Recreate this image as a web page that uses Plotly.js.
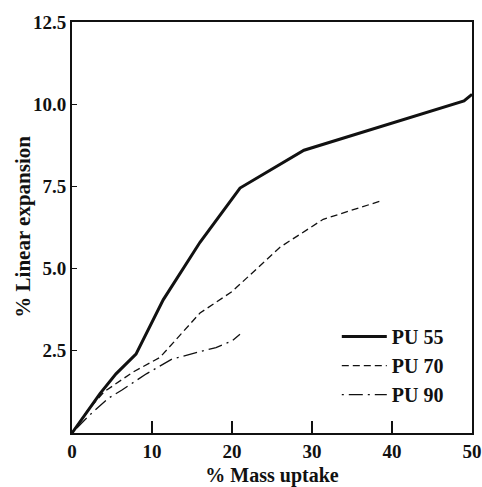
<!DOCTYPE html>
<html>
<head>
<meta charset="utf-8">
<script src="https://cdn.plot.ly/plotly-3.0.1.min.js"></script>
<style>html,body{margin:0;padding:0;background:#fff;}#chart{width:482px;height:487px;}</style>
</head>
<body>
<div id="chart"></div>
<script>
const pu55_x = [0, 3.5, 5.5, 8, 11.4, 13.8, 16, 21, 29, 49, 50];
const pu55_y = [0, 1.2, 1.8, 2.4, 4.05, 4.95, 5.8, 7.45, 8.6, 10.1, 10.3];
const pu70_x = [0, 2, 4, 7.6, 11, 16, 20, 26, 31.4, 38.5];
const pu70_y = [0, 0.7, 1.25, 1.85, 2.3, 3.65, 4.3, 5.65, 6.5, 7.05];
const pu90_x = [0, 2, 4.5, 6.2, 9.3, 12.5, 18, 20, 21];
const pu90_y = [0, 0.5, 1.05, 1.3, 1.8, 2.25, 2.6, 2.8, 3.0];
const seriesNames = ["PU 55", "PU 70", "PU 90"];
const xTicks = [0, 10, 20, 30, 40, 50];
const yTicks = [2.5, 5.0, 7.5, 10.0, 12.5];
const yTickText = ["2.5", "5.0", "7.5", "10.0", "12.5"];
const yTitle = "% Linear expansion";
const xTitle = "% Mass uptake";

const fam = "Liberation Serif, Times New Roman, serif";
const traces = [
  {x: pu55_x, y: pu55_y, name: seriesNames[0], mode: "lines", line: {color: "#111", width: 3}},
  {x: pu70_x, y: pu70_y, name: seriesNames[1], mode: "lines", line: {color: "#111", width: 1.3, dash: "7px,4px"}},
  {x: pu90_x, y: pu90_y, name: seriesNames[2], mode: "lines", line: {color: "#111", width: 1.3, dash: "2px,5px,14px,5px"}}
];
const layout = {
  width: 482, height: 487,
  margin: {l: 72, r: 10, t: 22, b: 54},
  paper_bgcolor: "#fff", plot_bgcolor: "#fff",
  font: {family: fam, color: "#111"},
  showlegend: true,
  legend: {x: 0.662, y: 0.282, xanchor: "left", yanchor: "top", bgcolor: "rgba(0,0,0,0)", itemwidth: 45,
           font: {family: fam, size: 20, color: "#111", weight: "bold"}, tracegroupgap: 0},
  xaxis: {range: [0, 50], tickvals: xTicks, ticks: "inside", ticklen: 12, tickwidth: 1.5, tickcolor: "#111",
          showline: true, linecolor: "#111", linewidth: 2, mirror: true, showgrid: false, zeroline: false,
          tickfont: {family: fam, size: 19, color: "#111", weight: "bold"},
          title: {text: xTitle, font: {family: fam, size: 20, color: "#111", weight: "bold"}, standoff: 17}},
  yaxis: {range: [0, 12.5], tickvals: yTicks, ticktext: yTickText, ticks: "inside", ticklen: 5, tickwidth: 1, tickcolor: "#111",
          showline: true, linecolor: "#111", linewidth: 2, mirror: true, showgrid: false, zeroline: false,
          tickfont: {family: fam, size: 19, color: "#111", weight: "bold"}},
  annotations: [
    {text: yTitle, xref: "paper", yref: "paper", x: -0.1225, y: 0.502, xanchor: "center", yanchor: "middle",
     textangle: -90, showarrow: false, font: {family: fam, size: 21, color: "#111", weight: "bold"}}
  ]
};
Plotly.newPlot("chart", traces, layout, {displayModeBar: false, staticPlot: true});
</script>
</body>
</html>
